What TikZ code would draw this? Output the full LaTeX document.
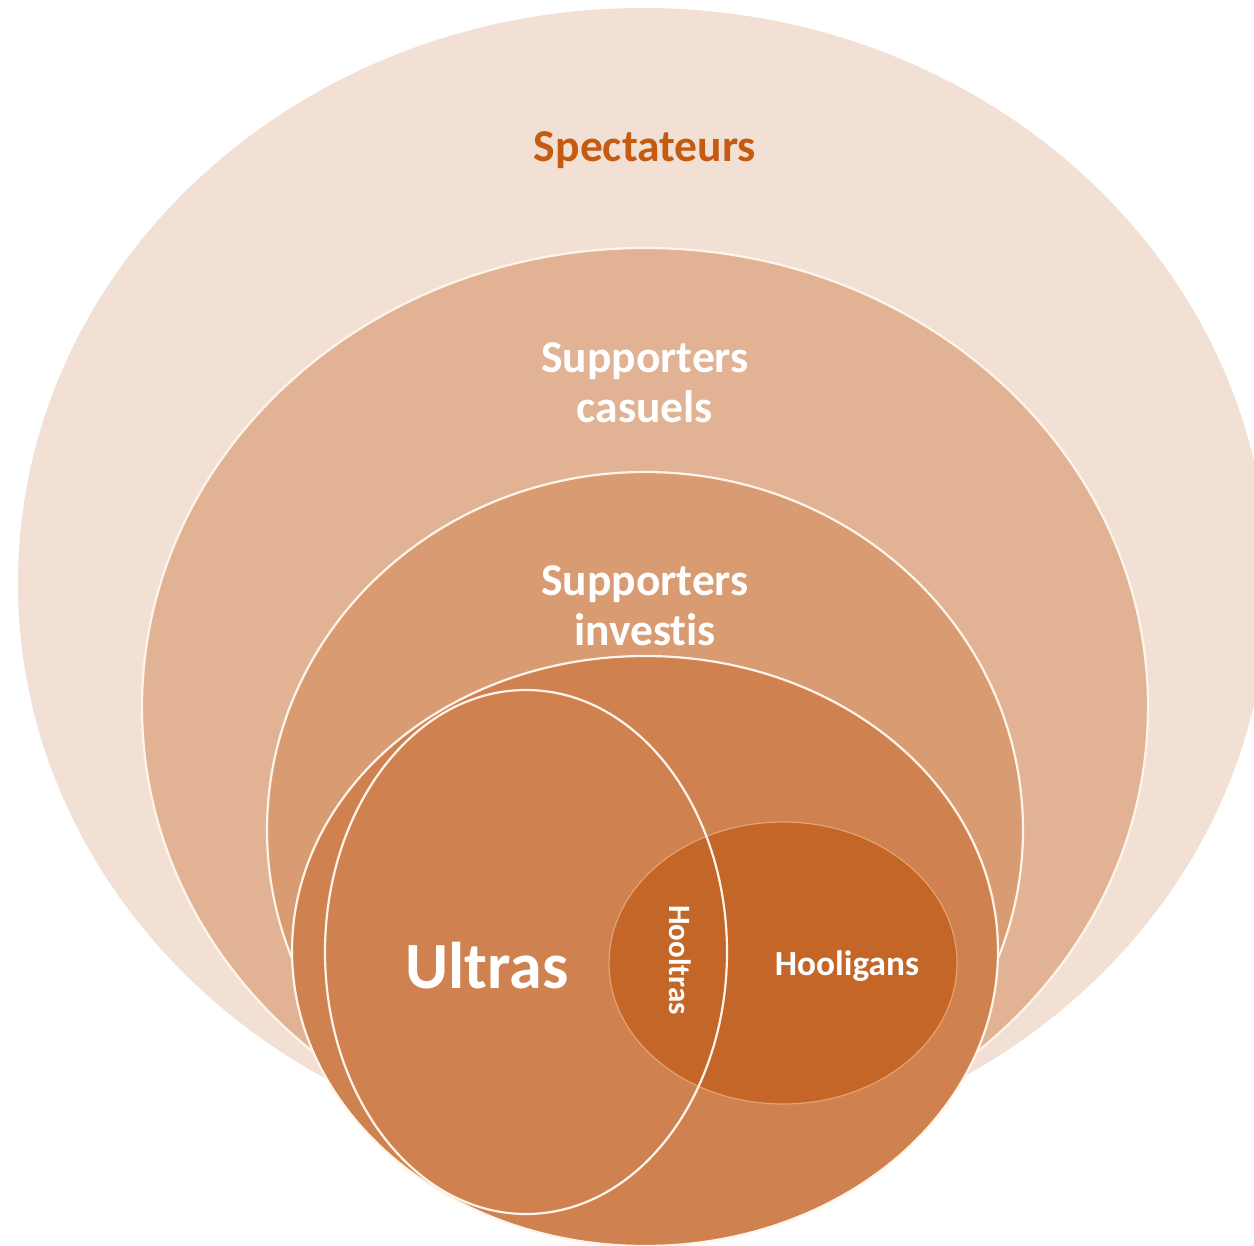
\documentclass[tikz,border=0pt]{standalone}
\usepackage{fontspec}
\setmainfont{Carlito}[Ligatures=NoCommon]
\usetikzlibrary{shapes.geometric}
\definecolor{cPale}{HTML}{F2E0D4}
\definecolor{cCas}{HTML}{E1B394}
\definecolor{cInv}{HTML}{D89B72}
\definecolor{cOra}{HTML}{CF8250}
\definecolor{cHoo}{HTML}{C46628}
\definecolor{cTxt}{HTML}{C55A11}
\definecolor{cLine}{HTML}{FFF4EA}
\definecolor{cHooLine}{HTML}{E3A270}
\tikzset{
  blob/.style={ellipse, inner sep=0pt, outer sep=0pt},
  lab/.style={font=\bfseries, text=white, align=center, inner sep=0pt},
}
\begin{document}
\begin{tikzpicture}[x=1pt,y=-1pt]
\fill[white] (0,0) rectangle (1254,1246);
\useasboundingbox (0,0) rectangle (1254,1246);
\clip (0,0) rectangle (1254,1246);
\node[blob, fill=cPale, minimum width=1250pt, minimum height=1150pt] (spect) at (643,583) {};
\node[blob, fill=cCas, draw=cLine, line width=2.2pt, minimum width=1006pt, minimum height=918pt] (cas) at (645,707) {};
\node[blob, fill=cInv, draw=cLine, line width=2.2pt, minimum width=756pt, minimum height=716pt] (inv) at (645,830) {};
\node[blob, fill=cOra, draw=cLine, line width=2.2pt, minimum width=706pt, minimum height=590pt] (act) at (645,951) {};
\node[blob, fill=cOra, minimum width=402pt, minimum height=524pt] (ultfill) at (526,952) {};
\node[blob, fill=cHoo, draw=cHooLine, line width=1.2pt, minimum width=348pt, minimum height=282pt] (hool) at (783,963) {};
\node[blob, draw=cLine, line width=2.2pt, minimum width=402pt, minimum height=524pt] (ult) at (526,952) {};
\node[lab, text=cTxt, font=\fontsize{45.6}{50}\selectfont\bfseries] (tspect) at (645,150) {Spectateurs};
\node[lab, font=\fontsize{45.5}{50}\selectfont\bfseries] (tcas) at (645,383) {Supporters\\casuels};
\node[lab, font=\fontsize{45.5}{50}\selectfont\bfseries] (tinv) at (645,606) {Supporters\\investis};
\node[lab, font=\fontsize{66}{70}\selectfont\bfseries] (tult) at (487,966) {Ultras};
\node[lab, font=\fontsize{35.3}{40}\selectfont\bfseries] (thool) at (847,966) {Hooligans};
\node[lab, rotate=-90, font=\fontsize{31}{35}\selectfont\bfseries] (thooltras) at (680,960) {Hooltras};
\end{tikzpicture}
\end{document}
